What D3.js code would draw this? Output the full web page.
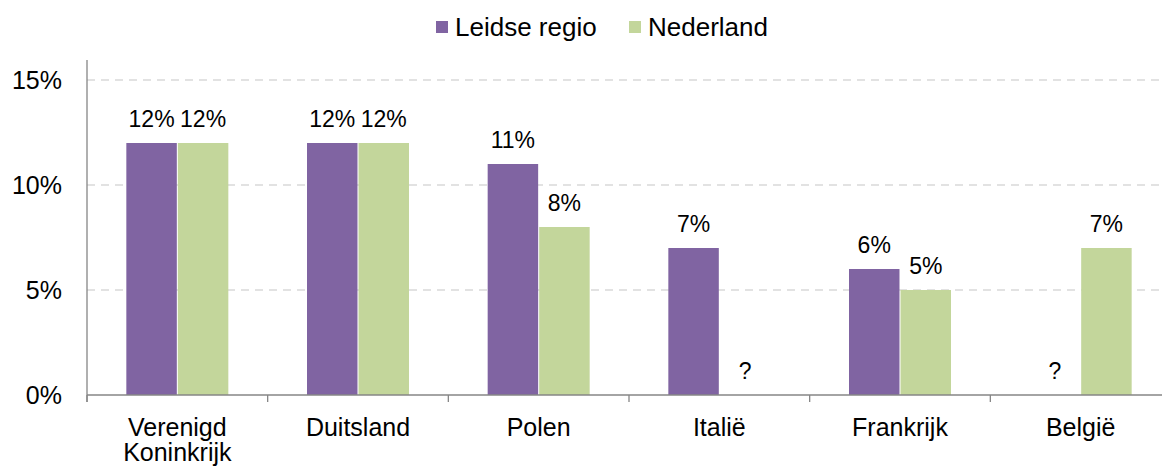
<!DOCTYPE html>
<html><head><meta charset="utf-8">
<script src="https://cdn.jsdelivr.net/npm/d3@7"></script>
<style>body{margin:0;background:#fff}svg{display:block;font-family:"Liberation Sans",Arial,sans-serif}</style>
</head><body><svg id="c" width="1162" height="468"></svg>
<script>
const categories = [["Verenigd","Koninkrijk"],["Duitsland"],["Polen"],["Italië"],["Frankrijk"],["België"]];
const seriesNames = ["Leidse regio","Nederland"];
const leidse = [12,12,11,7,6,0];
const nederland = [12,12,8,0,5,7];
const yTicks = [0,5,10,15];
const colors = ["#8064A2","#C3D69B"];

const svg = d3.select("#c");
const W=1162,H=468;
const x0=87, x1=1171, yBase=395, yTop=80;
const catKeys = categories.map(c=>c.join(" "));
const x = d3.scaleBand().domain(catKeys).range([x0,x1]).paddingInner(0).paddingOuter(0);
const y = d3.scaleLinear().domain([0,15]).range([yBase,yTop]);
const xs = d3.scaleBand().domain(seriesNames).range([0,102]).paddingInner(0.02);
const off = (x.bandwidth()-102)/2;

// gridlines
svg.append("g").selectAll("line").data(yTicks.filter(t=>t>0)).join("line")
  .attr("x1",x0).attr("x2",W).attr("y1",d=>y(d)).attr("y2",d=>y(d))
  .attr("stroke","#d9d9d9").attr("stroke-width",1.3).attr("stroke-dasharray","8,6");

// y tick labels
svg.append("g").selectAll("text").data(yTicks).join("text")
  .attr("x",62).attr("y",d=>y(d)+9).attr("text-anchor","end")
  .attr("font-size",25).attr("fill","#000").text(d=>d+"%");

const data = catKeys.map((k,i)=>({k, vals:[leidse[i],nederland[i]]}));
const g = svg.append("g");
data.forEach(d=>{
  d.vals.forEach((v,j)=>{
    const bx = x(d.k)+off+xs(seriesNames[j]);
    if(v>0){
      g.append("rect").attr("x",bx).attr("y",y(v)).attr("width",xs.bandwidth()).attr("height",y(0)-y(v)).attr("fill",colors[j]);
    }
    g.append("text").attr("x",bx+xs.bandwidth()/2).attr("y",y(v)-16.5).attr("text-anchor","middle")
      .attr("font-size",23).attr("fill","#000").text(v>0?v+"%":"?");
  });
});

// axes
const axisColor="#868686";
svg.append("line").attr("x1",x0).attr("x2",x0).attr("y1",yTop-20).attr("y2",yBase+7).attr("stroke",axisColor).attr("stroke-width",1.3);
svg.append("line").attr("x1",x0).attr("x2",W).attr("y1",yBase).attr("y2",yBase).attr("stroke",axisColor).attr("stroke-width",1.3);
svg.append("g").selectAll("line").data(catKeys).join("line")
  .attr("x1",d=>x(d)).attr("x2",d=>x(d)).attr("y1",yBase).attr("y2",yBase+7).attr("stroke",axisColor).attr("stroke-width",1.3);

// category labels
const cl = svg.append("g").selectAll("text").data(categories).join("text")
  .attr("text-anchor","middle").attr("font-size",25).attr("fill","#000");
cl.each(function(c,i){
  const t=d3.select(this);
  c.forEach((line,li)=>{
    t.append("tspan").attr("x",x(catKeys[i])+x.bandwidth()/2).attr("y",436+li*25).text(line);
  });
});

// legend
const lg = svg.append("g");
const legendX=[436,629];
seriesNames.forEach((s,i)=>{
  lg.append("rect").attr("x",legendX[i]).attr("y",21).attr("width",12).attr("height",12).attr("fill",colors[i]);
  lg.append("text").attr("x",legendX[i]+19).attr("y",36).attr("font-size",26).attr("fill","#000").text(s);
});
</script></body></html>
